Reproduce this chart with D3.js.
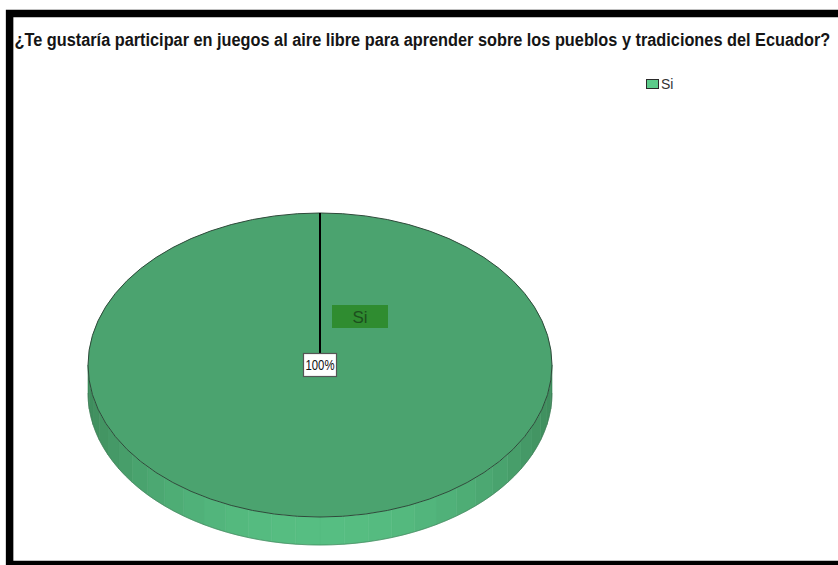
<!DOCTYPE html>
<html>
<head>
<meta charset="utf-8">
<script src="https://cdn.jsdelivr.net/npm/d3@7"></script>
<style>
  html, body { margin: 0; padding: 0; background: #fff; }
  svg { display: block; }
</style>
</head>
<body>
<svg id="chart" width="838" height="565"></svg>
<script>
// Chart data
const title = "¿Te gustaría participar en juegos al aire libre para aprender sobre los pueblos y tradiciones del Ecuador?";
const categories = ["Si"];
const values = [100];
const percentLabels = ["100%"];

const colors = {
  top: "#4ba36f",
  sideLight: "#56be82",
  sideDark: "#3e8b5c",
  legend: "#5ccb8a",
  catBox: "#2f8c30",
  catText: "#1c4f1d"
};

const FONT = "'Liberation Sans Narrow', 'Arial Narrow', 'Liberation Sans', Arial, sans-serif";

const svg = d3.select("#chart");

// Frame
svg.append("rect")
  .attr("x", 9.6).attr("y", 13.5)
  .attr("width", 900).attr("height", 551)
  .attr("fill", "#fff")
  .attr("stroke", "#000")
  .attr("stroke-width", 7.5);

// Title: fitted horizontally to the space between the frame and the right edge
const titleX = 14.5, titleW = 816;
const titleG = svg.append("g");
const titleText = titleG.append("text")
  .attr("x", 0).attr("y", 0)
  .attr("font-family", FONT)
  .attr("font-weight", "bold")
  .attr("font-size", 17.5)
  .attr("fill", "#151515")
  .text(title);
const naturalW = titleText.node().getComputedTextLength();
const sx = Math.min(1, titleW / naturalW);
titleG.attr("transform", `translate(${titleX},46) scale(${sx},1)`);

// Legend
const legend = svg.append("g").attr("transform", "translate(646,79)");
categories.forEach((c, i) => {
  const g = legend.append("g").attr("transform", `translate(0,${i * 16})`);
  g.append("rect").attr("x", 0.5).attr("y", 0.5).attr("width", 12).attr("height", 9)
    .attr("fill", colors.legend).attr("stroke", "#2a2a2a").attr("stroke-width", 1);
  g.append("text").attr("x", 15).attr("y", 10)
    .attr("font-family", FONT)
    .attr("font-size", 14).attr("fill", "#333").text(c);
});

// 3D pie geometry
const cx = 320, cy = 365, rx = 232, ry = 152, depth = 28;

const pie = d3.pie().sort(null).startAngle(0).endAngle(2 * Math.PI);
const arcs = pie(values);

// Side wall: drawn as facets across the visible front half
const nStrips = 30;
const shade = d3.interpolateRgb(colors.sideDark, colors.sideLight);
const side = svg.append("g");
for (let k = 0; k < nStrips; k++) {
  const t1 = Math.PI * k / nStrips;
  const t2 = Math.PI * (k + 1) / nStrips;
  const tm = (t1 + t2) / 2;
  const pts = [];
  const steps = 4;
  for (let s = 0; s <= steps; s++) {
    const t = t1 + (t2 - t1) * s / steps;
    pts.push([cx + rx * Math.cos(t), cy + ry * Math.sin(t)]);
  }
  for (let s = steps; s >= 0; s--) {
    const t = t1 + (t2 - t1) * s / steps;
    pts.push([cx + rx * Math.cos(t), cy + ry * Math.sin(t) + depth]);
  }
  const light = Math.pow(Math.sin(tm), 1.6);
  side.append("path")
    .attr("d", d3.line()(pts) + "Z")
    .attr("fill", shade(light))
    .attr("stroke", shade(light))
    .attr("stroke-width", 0.6);
}
// Bottom edge of the side wall
const bottomEdge = d3.range(0, 61).map(i => {
  const t = Math.PI * i / 60;
  return [cx + rx * Math.cos(t), cy + ry * Math.sin(t) + depth];
});
side.append("path").attr("d", d3.line()(bottomEdge))
  .attr("fill", "none").attr("stroke", "#3a6e4e").attr("stroke-width", 0.8).attr("opacity", 0.6);

// Top face
const arc = d3.arc().innerRadius(0).outerRadius(rx);
const topG = svg.append("g").attr("transform", `translate(${cx},${cy}) scale(1,${ry / rx})`);
topG.selectAll("path").data(arcs).join("path")
  .attr("d", arc)
  .attr("fill", colors.top)
  .attr("stroke", "#2e4a3a")
  .attr("stroke-width", 1)
  .attr("vector-effect", "non-scaling-stroke");

// Slice boundary from centre to rim
arcs.forEach(a => {
  const ex = cx + rx * Math.sin(a.startAngle);
  const ey = cy - ry * Math.cos(a.startAngle);
  svg.append("line")
    .attr("x1", cx).attr("y1", cy - 12)
    .attr("x2", ex).attr("y2", ey)
    .attr("stroke", "#000").attr("stroke-width", 2);
});

// Category label
arcs.forEach((a, i) => {
  const g = svg.append("g").attr("transform", "translate(360,316.5)");
  g.append("rect").attr("x", -28).attr("y", -11.5).attr("width", 56).attr("height", 23)
    .attr("fill", colors.catBox);
  g.append("text").attr("x", 0).attr("y", 6).attr("text-anchor", "middle")
    .attr("font-family", FONT)
    .attr("font-size", 17).attr("fill", colors.catText).text(categories[i]);
});

// Percentage label
arcs.forEach((a, i) => {
  const g = svg.append("g").attr("transform", `translate(${cx},365)`);
  g.append("rect").attr("x", -16.5).attr("y", -11.5).attr("width", 33).attr("height", 23)
    .attr("fill", "#fff").attr("stroke", "#555").attr("stroke-width", 1.2);
  g.append("text").attr("x", 0).attr("y", 5).attr("text-anchor", "middle")
    .attr("font-family", FONT)
    .attr("font-size", 14).attr("fill", "#111")
    .attr("textLength", 29).attr("lengthAdjust", "spacingAndGlyphs")
    .text(percentLabels[i]);
});
</script>
</body>
</html>
